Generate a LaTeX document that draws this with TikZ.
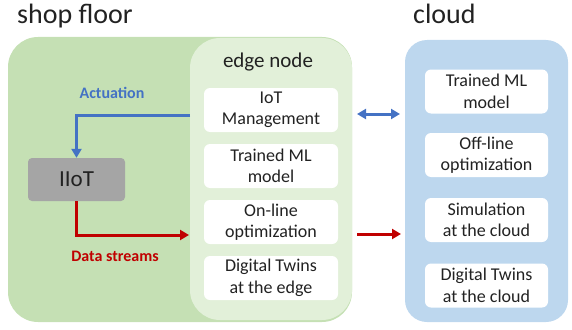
\documentclass[tikz,border=0pt]{standalone}
\usepackage{fontspec}
\setmainfont{Carlito}
\usetikzlibrary{arrows.meta}
\definecolor{outergreen}{HTML}{C5E0B4}
\definecolor{edgegreen}{HTML}{E2F0D9}
\definecolor{cloudblue}{HTML}{BDD7EE}
\definecolor{iiotgray}{HTML}{A5A5A5}
\definecolor{actblue}{HTML}{4472C4}
\definecolor{datared}{HTML}{C00000}
\definecolor{txt}{HTML}{222222}
\begin{document}
\begin{tikzpicture}[x=1pt,y=-1pt,
  region/.style={draw=none,rectangle,inner sep=0pt},
  wbox/.style={draw=none,fill=white,rectangle,rounded corners=6pt,inner sep=0pt,
    align=center,text=txt,font=\fontsize{18}{21.5}\selectfont},
  ebox/.style={wbox,minimum width=134pt,minimum height=44pt},
  cbox/.style={wbox,minimum width=123pt,minimum height=44pt},
  title/.style={text=txt,inner sep=0pt,font=\fontsize{28}{30}\selectfont},
  lbl/.style={inner sep=0pt,font=\fontsize{16}{18}\selectfont\bfseries},
  conn/.style={line width=3pt,-{Triangle[length=9pt,width=10pt]}}
]
\useasboundingbox (0,0) rectangle (572,329);
% containers
\node[region,fill=outergreen,rounded corners=30pt,minimum width=344pt,minimum height=285pt] (shop) at (180,179.5) {};
\node[region,fill=edgegreen,rounded corners=30pt,minimum width=162pt,minimum height=282pt] (edge) at (271,179) {};
\node[region,fill=cloudblue,rounded corners=22pt,minimum width=163pt,minimum height=282pt] (cloud) at (486.5,181) {};
% titles
\node[title,anchor=base west] (shoptitle) at (17,24) {shop floor};
\node[title,anchor=base west] (cloudtitle) at (413,24) {cloud};
\node[text=txt,inner sep=0pt,font=\fontsize{21}{24}\selectfont] (edgetitle) at (268,62) {edge node};
% edge boxes
\node[ebox] (e1) at (271,110) {IoT\\Management};
\node[ebox] (e2) at (271,166) {Trained ML\\model};
\node[ebox] (e3) at (271,222) {On-line\\optimization};
\node[ebox] (e4) at (271,278) {Digital Twins\\at the edge};
% cloud boxes
\node[cbox] (c1) at (486.5,91.5) {Trained ML\\model};
\node[cbox] (c2) at (486.5,155) {Off-line\\optimization};
\node[cbox] (c3) at (486.5,220) {Simulation\\at the cloud};
\node[cbox] (c4) at (486.5,285.5) {Digital Twins\\at the cloud};
% IIoT
\node[region,fill=iiotgray,rounded corners=4pt,minimum width=97pt,minimum height=43pt,
  text=txt,font=\fontsize{23}{26}\selectfont] (iiot) at (76.5,179.5) {IIoT};
% labels
\node[lbl,text=actblue] (actlbl) at (112,93) {Actuation};
\node[lbl,text=datared] (datalbl) at (115,256) {Data streams};
% connectors
\coordinate (actstart) at (190,115);
\coordinate (dataend) at (189,235);
\draw[conn,draw=actblue] (actstart) -| (iiot.north);
\draw[conn,draw=datared] (iiot.south) |- (dataend);
\coordinate (dA) at (357,114);
\coordinate (dB) at (400,114);
\draw[line width=3pt,draw=actblue,{Triangle[length=9pt,width=10pt]}-{Triangle[length=9pt,width=10pt]}] (dA) -- (dB);
\coordinate (rA) at (357,234);
\coordinate (rB) at (401,234);
\draw[conn,draw=datared] (rA) -- (rB);
\end{tikzpicture}
\end{document}
